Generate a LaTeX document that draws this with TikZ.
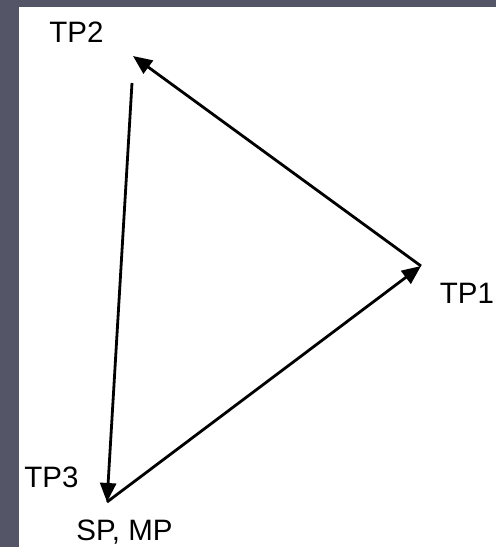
\documentclass[tikz,border=0pt]{standalone}
\usepackage{fontspec}
\setmainfont{Liberation Sans}
\usetikzlibrary{arrows.meta}
\definecolor{slidebg}{RGB}{84,86,104}
\tikzset{
  lbl/.style={inner sep=0pt, anchor=base, font=\fontsize{29.5}{35}\selectfont},
  edge/.style={line width=2.8pt, -{Triangle[length=19pt,width=16pt]}},
  plain/.style={line width=2.8pt}
}
\begin{document}
\begin{tikzpicture}[x=1pt,y=-1pt]
\useasboundingbox (0,0) rectangle (496,547);
\fill[slidebg] (0,0) rectangle (496,547);
\fill[white] (19,7) rectangle (496,547);
\coordinate (v1) at (421,266);
\coordinate (v2) at (133,56);
\coordinate (v2s) at (132,83);
\coordinate (v3) at (107,502);
\node[lbl] (tp2) at (76.5,42) {TP2};
\node[lbl] (tp1) at (467,303) {TP1};
\node[lbl] (tp3) at (51.5,487) {TP3};
\node[lbl] (spmp) at (124.5,540) {SP, MP};
\draw[edge] (v1) -- (v2);
\draw[edge] (v2s) -- (v3);
\draw[edge] (v3) -- (v1);
\end{tikzpicture}
\end{document}
